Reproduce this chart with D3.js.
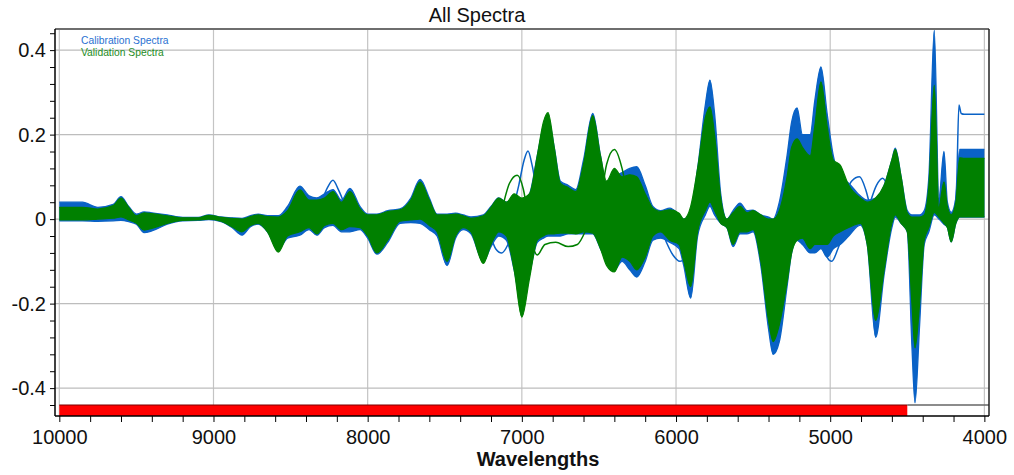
<!DOCTYPE html>
<html>
<head>
<meta charset="utf-8">
<script src="https://cdn.jsdelivr.net/npm/d3@7"></script>
<style>
  body { margin: 0; background: #fff; }
  svg text { font-family: "Liberation Sans", Arial, sans-serif; }
</style>
</head>
<body>
<div id="chart"></div>
<script>
// wavenumber knots shared by the envelope series
const waves = [10000, 9850, 9750, 9650, 9600, 9550, 9500, 9450, 9400, 9300, 9200, 9100, 9030, 8950, 8880, 8815, 8760, 8710, 8650, 8580,
  8520, 8440, 8380, 8330, 8280, 8225, 8170, 8115, 8050, 8000, 7940, 7870, 7790, 7720, 7660, 7600, 7550, 7485, 7430, 7380,
  7330, 7250, 7200, 7150, 7100, 7050, 7000, 6950, 6900, 6860, 6830, 6790, 6750, 6700, 6650, 6600, 6540, 6490, 6450, 6400,
  6350, 6300, 6255, 6200, 6150, 6100, 6040, 5980, 5950, 5905, 5860, 5810, 5780, 5750, 5710, 5670, 5630, 5585, 5540, 5500,
  5450, 5400, 5370, 5330, 5280, 5250, 5215, 5180, 5130, 5100, 5060, 5020, 4980, 4935, 4880, 4805, 4760, 4705, 4650, 4600,
  4578, 4540, 4500, 4470, 4450, 4420, 4390, 4360, 4325, 4295, 4262, 4240, 4215, 4185, 4160, 4130, 4000];

// calibration spectra (blue) upper / lower envelope
const calHigh = [0.040, 0.040, 0.028, 0.035, 0.053, 0.030, 0.012, 0.017, 0.015, 0.010, 0.004, 0.004, 0.010, 0.005, 0.003, 0.002, 0.008, 0.012, 0.008, 0.008,
  0.030, 0.078, 0.055, 0.050, 0.060, 0.070, 0.045, 0.073, 0.030, 0.012, 0.012, 0.020, 0.024, 0.050, 0.094, 0.050, 0.012, 0.012, 0.014, 0.010,
  0.005, 0.010, 0.030, 0.050, 0.040, 0.050, 0.040, 0.060, 0.150, 0.220, 0.240, 0.170, 0.090, 0.080, 0.070, 0.140, 0.250, 0.150, 0.080, 0.100,
  0.110, 0.120, 0.124, 0.080, 0.030, 0.020, 0.026, 0.010, 0.000, 0.020, 0.120, 0.270, 0.329, 0.250, 0.060, 0.000, 0.020, 0.038, 0.020, 0.021,
  0.010, 0.005, 0.000, 0.040, 0.150, 0.230, 0.263, 0.200, 0.200, 0.280, 0.360, 0.250, 0.150, 0.100, 0.085, 0.055, 0.045, 0.050, 0.080, 0.140,
  0.168, 0.100, 0.020, 0.010, 0.010, 0.010, 0.020, 0.100, 0.447, 0.050, 0.160, 0.040, 0.016, 0.050, 0.165, 0.165, 0.165];
const calLow = [-0.004, -0.004, -0.005, -0.004, -0.003, -0.006, -0.012, -0.032, -0.028, -0.012, -0.004, -0.003, -0.001, -0.006, -0.020, -0.038, -0.018, -0.012, -0.030, -0.072,
  -0.045, -0.038, -0.025, -0.038, -0.020, -0.015, -0.030, -0.030, -0.025, -0.045, -0.083, -0.055, -0.010, -0.008, -0.010, -0.025, -0.040, -0.110, -0.045, -0.025,
  -0.035, -0.100, -0.065, -0.040, -0.050, -0.120, -0.205, -0.130, -0.055, -0.045, -0.040, -0.040, -0.040, -0.035, -0.035, -0.035, -0.035, -0.070, -0.100, -0.120,
  -0.100, -0.120, -0.137, -0.100, -0.050, -0.045, -0.055, -0.070, -0.110, -0.187, -0.040, 0.010, 0.030, 0.010, -0.010, -0.020, -0.065, -0.035, -0.035, -0.030,
  -0.110, -0.260, -0.320, -0.290, -0.160, -0.080, -0.050, -0.060, -0.080, -0.080, -0.070, -0.090, -0.070, -0.060, -0.040, -0.014, -0.060, -0.280, -0.130, -0.020,
  0.005, -0.010, -0.030, -0.300, -0.435, -0.250, -0.060, -0.030, 0.010, 0.000, -0.012, -0.020, -0.054, -0.010, 0.005, 0.005, 0.005];

// validation spectra (green) upper / lower envelope
const valHigh = [0.028, 0.028, 0.024, 0.032, 0.050, 0.028, 0.008, 0.015, 0.013, 0.008, 0.003, 0.003, 0.009, 0.004, 0.002, 0.000, 0.006, 0.010, 0.006, 0.005,
  0.020, 0.069, 0.045, 0.045, 0.050, 0.065, 0.040, 0.065, 0.025, 0.010, 0.010, 0.018, 0.022, 0.045, 0.088, 0.045, 0.010, 0.010, 0.012, 0.008,
  0.002, 0.008, 0.028, 0.050, 0.040, 0.060, 0.050, 0.060, 0.150, 0.230, 0.252, 0.170, 0.085, 0.075, 0.065, 0.130, 0.245, 0.150, 0.090, 0.120,
  0.100, 0.105, 0.100, 0.060, 0.026, 0.018, 0.022, 0.014, 0.000, 0.030, 0.120, 0.240, 0.266, 0.200, 0.050, 0.000, 0.015, 0.030, 0.015, 0.020,
  0.010, 0.000, 0.000, 0.020, 0.100, 0.170, 0.190, 0.170, 0.150, 0.220, 0.325, 0.220, 0.140, 0.128, 0.080, 0.050, 0.040, 0.050, 0.080, 0.140,
  0.165, 0.100, 0.015, 0.005, 0.005, 0.005, 0.010, 0.080, 0.317, 0.030, 0.088, 0.030, 0.010, 0.040, 0.145, 0.144, 0.144];
const valLow = [-0.002, -0.002, 0.000, 0.002, 0.005, -0.002, -0.010, -0.026, -0.022, -0.010, -0.003, -0.002, 0.000, -0.005, -0.018, -0.030, -0.015, -0.010, -0.030, -0.078,
  -0.040, -0.030, -0.020, -0.035, -0.015, -0.010, -0.025, -0.018, -0.020, -0.040, -0.080, -0.050, -0.005, -0.002, 0.000, -0.015, -0.030, -0.100, -0.040, -0.020,
  -0.030, -0.105, -0.060, -0.030, -0.040, -0.120, -0.232, -0.140, -0.050, -0.040, -0.035, -0.035, -0.033, -0.033, -0.035, -0.030, -0.033, -0.070, -0.110, -0.125,
  -0.090, -0.100, -0.120, -0.090, -0.040, -0.030, -0.050, -0.060, -0.100, -0.160, -0.030, 0.020, 0.040, 0.020, -0.010, -0.020, -0.060, -0.030, -0.030, -0.025,
  -0.100, -0.240, -0.290, -0.250, -0.150, -0.080, -0.050, -0.045, -0.070, -0.060, -0.060, -0.060, -0.040, -0.030, -0.020, -0.010, -0.060, -0.240, -0.120, -0.010,
  0.010, -0.010, -0.030, -0.200, -0.305, -0.200, -0.050, -0.020, 0.016, 0.005, -0.010, -0.020, -0.054, -0.010, 0.005, 0.005, 0.005];

// single spectra that leave the bundles
const calTailW = [4200, 4180, 4165, 4150, 4130, 4000];
const calTailV = [0.000, 0.080, 0.270, 0.250, 0.248, 0.248];
const cal8225W = [8300, 8260, 8225, 8190, 8150];
const cal8225V = [0.040, 0.075, 0.092, 0.070, 0.035];
const cal6960W = [7060, 7020, 6985, 6960, 6935, 6890];
const cal6960V = [0.020, 0.080, 0.140, 0.161, 0.130, 0.030];
const cal7130W = [7210, 7170, 7130, 7090, 7050];
const cal7130V = [-0.030, -0.070, -0.080, -0.060, -0.020];
const cal5975W = [6080, 6020, 5975, 5940, 5910];
const cal5975V = [-0.040, -0.085, -0.100, -0.090, -0.060];
const cal4990W = [5060, 5020, 4990, 4950, 4900];
const cal4990V = [-0.040, -0.090, -0.100, -0.070, -0.020];
const cal4805W = [4920, 4860, 4810, 4770, 4735];
const cal4805V = [0.040, 0.090, 0.100, 0.070, 0.020];
const cal4660W = [4740, 4700, 4660, 4620, 4590];
const cal4660V = [0.040, 0.080, 0.097, 0.070, 0.030];
const val7030W = [7130, 7080, 7030, 6990, 6950];
const val7030V = [0.020, 0.085, 0.104, 0.070, -0.020];
const val6400W = [6500, 6450, 6400, 6350, 6300];
const val6400V = [0.000, 0.130, 0.165, 0.120, 0.020];
const val6750W = [6950, 6900, 6850, 6780, 6700, 6640, 6590];
const val6750V = [-0.030, -0.085, -0.060, -0.055, -0.065, -0.060, -0.030];

const xTicks = [10000, 9000, 8000, 7000, 6000, 5000, 4000];
const yTicks = [-0.4, -0.2, 0, 0.2, 0.4];
const regionStart = 10000, regionEnd = 4500, regionLevel = -0.44;

const calColor = "#0a62c6", valColor = "#008000";

const width = 1014, height = 475;
const margin = {top: 29, right: 25, bottom: 59, left: 55};
const innerW = width - margin.left - margin.right,
      innerH = height - margin.top - margin.bottom;

const svg = d3.select("#chart").append("svg")
  .attr("width", width).attr("height", height);

const x = d3.scaleLinear().domain([10028, 3970]).range([0, innerW]);
const y = d3.scaleLinear().domain([-0.466, 0.45]).range([innerH, 0]);

const g = svg.append("g").attr("transform", `translate(${margin.left},${margin.top})`);

// grid
g.append("g").selectAll("line").data(xTicks).join("line")
  .attr("x1", d => x(d)).attr("x2", d => x(d)).attr("y1", 0).attr("y2", innerH)
  .attr("stroke", "#c4c4c4").attr("stroke-width", 1.2);
g.append("g").selectAll("line").data(yTicks).join("line")
  .attr("x1", 0).attr("x2", innerW).attr("y1", d => y(d)).attr("y2", d => y(d))
  .attr("stroke", "#bdbdbd").attr("stroke-width", 1.2);

const plot = g.append("g");
const rows = waves.map((w, i) => ({w, bh: calHigh[i], bl: calLow[i], gh: valHigh[i], gl: valLow[i]}));

const bandCal = d3.area().curve(d3.curveMonotoneX)
  .x(d => x(d.w)).y0(d => y(d.bl)).y1(d => y(d.bh));
const bandVal = d3.area().curve(d3.curveMonotoneX)
  .x(d => x(d.w)).y0(d => y(d.gl)).y1(d => y(d.gh));
const edge = key => d3.line().curve(d3.curveMonotoneX).x(d => x(d.w)).y(d => y(d[key]));

plot.append("path").attr("d", bandCal(rows)).attr("fill", calColor);
["bh", "bl"].forEach(k => plot.append("path").attr("d", edge(k)(rows))
  .attr("fill", "none").attr("stroke", calColor).attr("stroke-width", 1.3));

const single = d3.line().curve(d3.curveMonotoneX).x(d => x(d[0])).y(d => y(d[1]));
const calSingles = [[calTailW, calTailV], [cal8225W, cal8225V], [cal6960W, cal6960V], [cal7130W, cal7130V],
  [cal5975W, cal5975V], [cal4990W, cal4990V], [cal4805W, cal4805V], [cal4660W, cal4660V]];
plot.append("g").selectAll("path").data(calSingles).join("path")
  .attr("d", d => single(d3.zip(d[0], d[1])))
  .attr("fill", "none").attr("stroke", calColor).attr("stroke-width", 1.5);

plot.append("path").attr("d", bandVal(rows)).attr("fill", valColor);
["gh", "gl"].forEach(k => plot.append("path").attr("d", edge(k)(rows))
  .attr("fill", "none").attr("stroke", valColor).attr("stroke-width", 1.2));

const valSingles = [[val7030W, val7030V], [val6400W, val6400V], [val6750W, val6750V]];
plot.append("g").selectAll("path").data(valSingles).join("path")
  .attr("d", d => single(d3.zip(d[0], d[1])))
  .attr("fill", "none").attr("stroke", valColor).attr("stroke-width", 1.5);

// region bar along the bottom
g.append("rect")
  .attr("x", x(regionStart)).attr("width", x(regionEnd) - x(regionStart))
  .attr("y", y(regionLevel)).attr("height", innerH - y(regionLevel))
  .attr("fill", "#ff0000");
g.append("line")
  .attr("x1", x(regionStart)).attr("x2", x(regionEnd))
  .attr("y1", y(regionLevel)).attr("y2", y(regionLevel))
  .attr("stroke", "#7a0000").attr("stroke-width", 1.2);
g.append("line")
  .attr("x1", x(regionEnd)).attr("x2", innerW)
  .attr("y1", y(regionLevel)).attr("y2", y(regionLevel))
  .attr("stroke", "#666").attr("stroke-width", 1.5);

// frame
g.append("line").attr("x1", 0).attr("x2", innerW).attr("y1", 0).attr("y2", 0)
  .attr("stroke", "#6e6e6e").attr("stroke-width", 2);
g.append("line").attr("x1", innerW).attr("x2", innerW).attr("y1", 0).attr("y2", innerH)
  .attr("stroke", "#222").attr("stroke-width", 1.5);

// axes
const xAxis = d3.axisBottom(x).tickValues(d3.range(10000, 3999, -200))
  .tickSize(6).tickFormat(d => xTicks.includes(d) ? d : "");
const gx = g.append("g").attr("transform", `translate(0,${innerH})`).call(xAxis);
gx.select(".domain").attr("d", `M0,0H${innerW}`).attr("stroke", "#000").attr("stroke-width", 1.5);
gx.selectAll("text").attr("font-size", 20).attr("fill", "#111").attr("dy", "0.95em");

const yAxis = d3.axisLeft(y).tickValues(d3.range(-0.44, 0.45, 0.04).map(v => +v.toFixed(2)))
  .tickSize(5).tickFormat(d => yTicks.some(t => Math.abs(t - d) < 1e-9) ? (d === 0 ? "0" : d.toFixed(1)) : "");
const gy = g.append("g").call(yAxis);
gy.select(".domain").attr("d", `M0,0V${innerH}`).attr("stroke", "#000").attr("stroke-width", 1.5);
gy.selectAll("text").attr("font-size", 20).attr("fill", "#111").attr("x", -9);

// title, axis label, legend
svg.append("text").attr("x", 477).attr("y", 22).attr("text-anchor", "middle")
  .attr("font-size", 20).attr("fill", "#111").text("All Spectra");
svg.append("text").attr("x", 538).attr("y", 466).attr("text-anchor", "middle")
  .attr("font-size", 20).attr("font-weight", "bold").attr("fill", "#111").text("Wavelengths");
svg.append("text").attr("x", 81).attr("y", 44).attr("font-size", 10.3)
  .attr("fill", "#2a72d2").text("Calibration Spectra");
svg.append("text").attr("x", 81).attr("y", 55.5).attr("font-size", 10.3)
  .attr("fill", "#1e8c1e").text("Validation Spectra");
</script>
</body>
</html>
